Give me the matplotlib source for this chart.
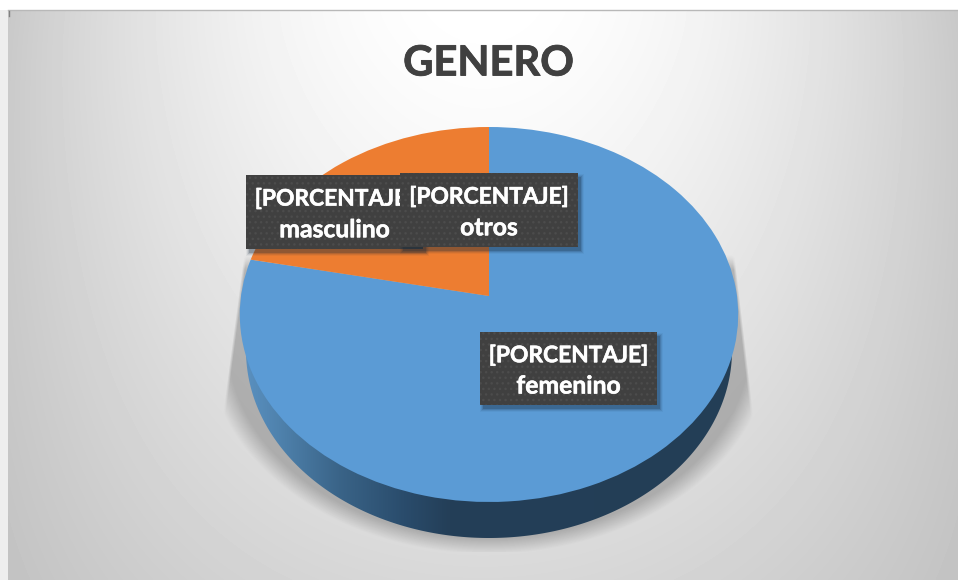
import numpy as np
import matplotlib
matplotlib.use("Agg")
import matplotlib.pyplot as plt
import matplotlib.patheffects as pe
from matplotlib.transforms import Transform
from matplotlib.patches import Polygon, Rectangle
from matplotlib.colors import LinearSegmentedColormap

# ---- data ----
categories = ["femenino", "masculino", "otros"]
values = [78.2, 21.8, 0.0]
slice_colors = ["#5b9bd5", "#ed7d31", "#a5a5a5"]
percent_text = "[PORCENTAJE]"
title_text = "GENERO"

# ---- layout (pixels) ----
W, H = 958, 580
CHART_X0, CHART_Y0 = 8, 10
CX, APEX_Y, TOP_Y, BOT_Y, KX = 489.0, 296.0, 127.0, 502.0, 248.0
DEPTH = 36.0
label_boxes = {"masculino": (246, 175, 177, 74),
               "otros": (400, 173, 178, 74),
               "femenino": (480, 332, 177, 73)}
label_order = ["masculino", "otros", "femenino"]

plt.rcParams["font.family"] = ["Lato", "DejaVu Sans"]
fig = plt.figure(figsize=(W / 100, H / 100), dpi=100, facecolor="#ffffff")
ax = fig.add_axes([0, 0, 1, 1])

# perspective mapping of the unit pie onto the picture
c = (BOT_Y + TOP_Y - 2 * APEX_Y) / (BOT_Y - TOP_Y)
a = TOP_Y * (c + 1) - APEX_Y


def project(xy, dy=0.0, shrink=1.0):
    u, v = xy[:, 0], xy[:, 1]
    den = c * v + 1
    return np.column_stack((CX + shrink * KX * u / den,
                            (a * v + APEX_Y) / den + dy))


class PieProjection(Transform):
    input_dims = output_dims = 2
    is_affine = False
    has_inverse = False

    def transform_non_affine(self, xy):
        return project(np.asarray(xy, dtype=float))


# pie drawn through the library from the values
wedges, _ = ax.pie(values, colors=slice_colors, startangle=90, counterclock=False,
                   center=(0, 0), radius=1.0, wedgeprops={"linewidth": 0})
proj = PieProjection()
for w in wedges:
    w.set_transform(proj + ax.transData)
    w.set_zorder(5)

ax.set_aspect("auto")
ax.axis("off")
ax.set_position([0, 0, 1, 1])

# background gradient
yy, xx = np.mgrid[0:H, 0:W] + 0.5
dxn = np.abs(xx - 483) / 475.0
yn = np.clip((yy - CHART_Y0) / 570.0, 0, 1)
f = 0.153 * yn ** 1.3 + (0.215 - 0.13 * yn) * dxn ** 1.9
bg = 1.0 - f

# soft shadow under the pie
sd = np.sqrt(((xx - CX) / 283.0) ** 2 + ((yy - 340.0) / 214.0) ** 2)
sh = np.clip((1.0 - sd) / 0.075, 0, 1)
xl = 238 - 15 * (yy - 300) / 113.0
xr = 740 + 13 * (yy - 300) / 111.0
sh *= np.clip((xx - xl) / 3.0, 0, 1) * np.clip((xr - xx) / 3.0, 0, 1)
sh *= np.clip((yy - 255) / 15.0, 0, 1)
sh[yy > 552] = 0
bg = bg * (1 - 0.22 * sh)
x0, y0 = CHART_X0, CHART_Y0
ax.imshow(bg[y0:, x0:], extent=(CHART_X0, W, H, CHART_Y0), cmap="gray", vmin=0, vmax=1,
          zorder=1, aspect="auto", interpolation="bilinear")
ax.add_patch(Rectangle((0, CHART_Y0), CHART_X0, H - CHART_Y0, facecolor="#eeeeee",
                       edgecolor="none", zorder=1))
ax.plot([CHART_X0, W], [CHART_Y0, CHART_Y0], color="#b8b8b8", lw=1, zorder=2)
ax.plot([CHART_X0 + 1.5] * 2, [11, 16], color="#808080", lw=1, zorder=2)

# side wall of the pie with a horizontal gradient
t = np.linspace(0, 2 * np.pi, 721)
ring = np.column_stack((np.cos(t), np.sin(t)))
lower = project(ring, dy=DEPTH, shrink=0.975)
wall_cmap = LinearSegmentedColormap.from_list(
    "wall", [(0.0, "#5c93c4"), (0.08, "#4f82ad"), (0.2, "#3a6488"),
             (0.33, "#2a4c6c"), (0.42, "#243f58"), (1.0, "#233e56")])
wall = ax.imshow(np.linspace(0, 1, 256)[None, :], extent=(CX - KX - 3, CX + KX + 3, 560, 300),
                 cmap=wall_cmap, aspect="auto", zorder=3)
clip = Polygon(lower, closed=True, transform=ax.transData, facecolor="none", edgecolor="none")
ax.add_patch(clip)
wall.set_clip_path(clip)
ax.set_xlim(0, W)
ax.set_ylim(H, 0)

# title
ax.text((405 + 572) / 2, 63.5, title_text, ha="center", va="center", fontsize=30,
        fontweight="bold", color="#404040", zorder=6,
        path_effects=[pe.withStroke(linewidth=0.6, foreground="#404040")])

# data labels
for i, name in enumerate(label_order):
    bx, by, bw, bh = label_boxes[name]
    z = 10 + i * 2
    for grow, alpha in [(3, 0.05), (2, 0.09), (1, 0.14), (0, 0.22)]:
        ax.add_patch(Rectangle((bx + 3 - grow, by + 4 - grow), bw + 2 * grow, bh + 2 * grow,
                               facecolor="#12263a", edgecolor="none", alpha=alpha, zorder=z))
    box = Rectangle((bx, by), bw, bh, facecolor="#404040", edgecolor="#4c4c4c",
                    hatch="...", lw=0, zorder=z + 0.1)
    ax.add_patch(box)
    for line, yoff, size in [(percent_text, 0.325, 16.4), (name, 0.74, 17.8)]:
        ax.text(bx + bw / 2, by + bh * yoff, line, ha="center", va="center", fontsize=size,
                fontweight="bold", color="#ffffff", zorder=z + 0.2,
                path_effects=[pe.withStroke(linewidth=0.4, foreground="#ffffff")])

fig.savefig("out.png", dpi=100, facecolor=fig.get_facecolor())
